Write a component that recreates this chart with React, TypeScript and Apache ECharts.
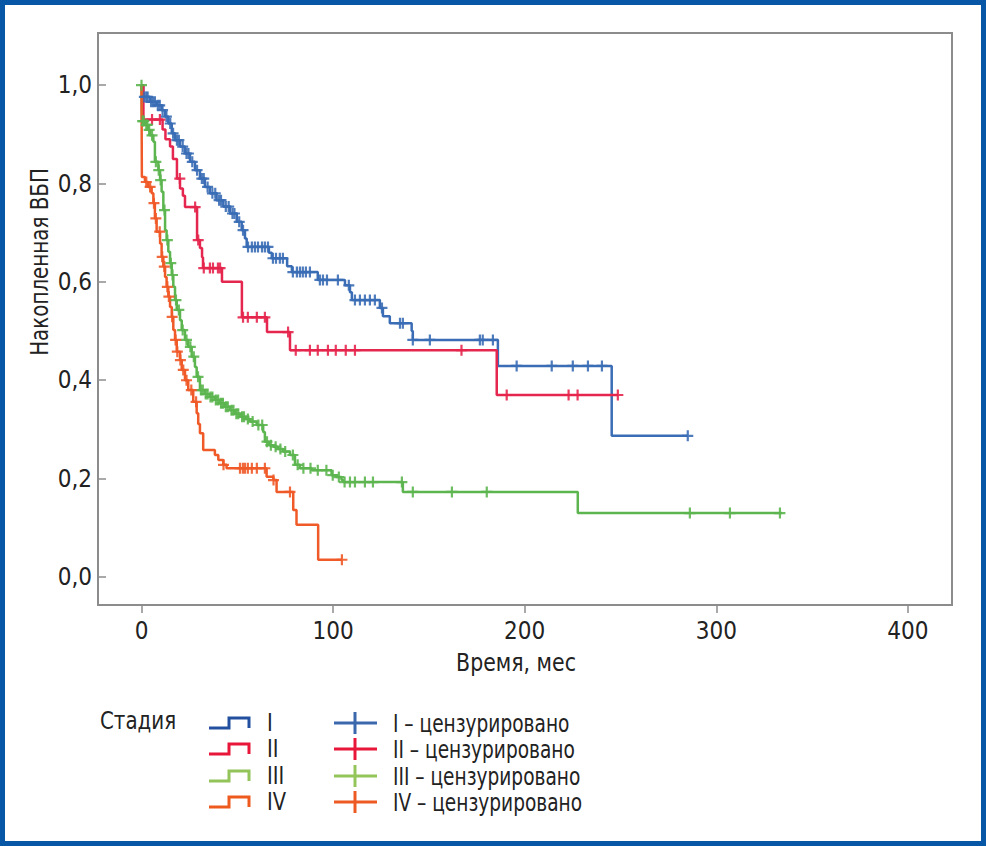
import React, { useEffect, useRef } from "react";
import * as echarts from "echarts";

// ---- Data ----
const xTicks = [0, 100, 200, 300, 400];
const yTicks = [0, 0.2, 0.4, 0.6, 0.8, 1.0];

const stageNames = ["I", "II", "III", "IV"];
const censorSuffix = " – цензурировано";

const blueT = [0, 0.9, 4.4, 7.9, 10.5, 12.3, 14, 15.8, 17.5, 20.1, 22.7, 25.3, 27.9, 30.5, 33.1, 35.7, 39.2, 42.7, 46.2, 49.7, 52.3, 54, 54.9, 66.5, 68, 76, 78.5, 92, 106.2, 108.8, 109.8, 124.4, 126, 129.6, 141, 141.6, 186, 245.4, 285.1];
const blueS = [1, 0.976, 0.966, 0.959, 0.949, 0.936, 0.922, 0.902, 0.888, 0.875, 0.861, 0.844, 0.827, 0.81, 0.793, 0.78, 0.766, 0.753, 0.739, 0.722, 0.705, 0.688, 0.671, 0.659, 0.648, 0.632, 0.62, 0.604, 0.593, 0.579, 0.563, 0.547, 0.53, 0.516, 0.5, 0.482, 0.429, 0.287, 0.287];
const blueCensor = [1.5, 2.5, 3.2, 5, 6, 7, 8.5, 9.5, 11, 13, 15, 16.5, 18.5, 19.5, 21.5, 23.5, 24.5, 26.5, 29, 31.5, 32.5, 34.5, 37, 38.5, 40.5, 41.5, 44, 45.5, 47.5, 48.5, 51, 53, 55.6, 57.6, 59.2, 60.8, 62.9, 64.4, 66, 68.6, 70.2, 72.2, 73.8, 79, 81.1, 82.7, 84.2, 85.8, 87.9, 93.1, 94.7, 96.8, 102.5, 108.2, 111.4, 114, 116.6, 119.2, 121.8, 125.5, 134.9, 136.4, 141.6, 150.5, 176.6, 178.1, 183.4, 195.8, 214.1, 225.1, 233, 240.3, 285.1];

const redT = [0, 1, 11, 12.5, 14.9, 16.4, 18.5, 20.1, 21.6, 22.7, 29, 30.5, 31.6, 32.1, 42, 52.4, 65.5, 77.5, 185.4, 248.6];
const redS = [1, 0.93, 0.91, 0.89, 0.875, 0.85, 0.81, 0.79, 0.775, 0.752, 0.685, 0.669, 0.65, 0.628, 0.6, 0.528, 0.498, 0.461, 0.37, 0.37];
const redCensor = [5.5, 9.6, 20, 28, 29.6, 32.5, 35.7, 37.3, 39.9, 41, 53, 55.5, 60.2, 64.4, 76.5, 80.5, 87.9, 92, 97.3, 101.4, 106.6, 111.4, 167, 190.6, 222.9, 227.6, 248.6];

const greenT = [0, 0.2, 1.8, 3.5, 4.4, 6.2, 7, 8.8, 9.7, 10.5, 11.4, 12.3, 13.1, 14, 14.9, 15.8, 16.6, 17.5, 18.4, 20.1, 21, 22.7, 24.4, 26.2, 27.9, 28.8, 30.5, 33.1, 35.7, 38.3, 40.9, 43.6, 46.2, 48.8, 51.4, 54, 56.6, 60.1, 63.5, 64.4, 66.5, 68.8, 71.2, 74, 77.5, 80.1, 82.7, 88.8, 99.2, 101.8, 104.4, 105.3, 136.4, 227.7, 334.2];
const greenS = [1, 0.927, 0.919, 0.909, 0.898, 0.885, 0.844, 0.827, 0.807, 0.783, 0.746, 0.705, 0.685, 0.661, 0.638, 0.614, 0.59, 0.563, 0.543, 0.522, 0.502, 0.482, 0.468, 0.448, 0.427, 0.407, 0.38, 0.372, 0.366, 0.36, 0.353, 0.346, 0.339, 0.332, 0.326, 0.321, 0.316, 0.309, 0.295, 0.275, 0.268, 0.265, 0.26, 0.255, 0.248, 0.228, 0.221, 0.217, 0.207, 0.203, 0.197, 0.193, 0.173, 0.13, 0.13];
const greenCensor = [0, 0.6, 1.2, 2.5, 3, 4, 5.5, 7.5, 9, 10, 12, 13.5, 15.3, 16.2, 18, 19.5, 21.5, 23.5, 25.5, 27.3, 29.5, 31, 32, 33.5, 34.5, 36, 37, 38.8, 40, 41.5, 42.5, 44, 45, 47, 48, 49.5, 50.5, 52.5, 53.5, 55.5, 58, 61, 63, 65.5, 67.5, 70, 72.5, 75, 79, 81.5, 84.5, 88.2, 92, 96.5, 99.8, 103, 106, 108.8, 111.4, 116.6, 120.8, 135.9, 141.6, 162, 180.2, 286.2, 307.1, 333.2];

const orangeT = [0, 0.2, 1.8, 3.5, 5.3, 6.2, 7, 7.9, 9.7, 10.5, 11.4, 12.3, 13.1, 14, 14.9, 15.8, 16.6, 17.5, 18.4, 20.1, 21, 22.7, 24.4, 27, 28.8, 29.6, 30.5, 32.2, 38.3, 40.1, 42.7, 44.4, 65.3, 68.8, 70.5, 79.2, 80.9, 92.2, 104.6];
const orangeS = [1, 0.813, 0.803, 0.793, 0.78, 0.76, 0.729, 0.702, 0.678, 0.651, 0.631, 0.61, 0.59, 0.57, 0.549, 0.529, 0.502, 0.482, 0.458, 0.441, 0.421, 0.4, 0.38, 0.356, 0.333, 0.311, 0.292, 0.258, 0.248, 0.238, 0.228, 0.221, 0.204, 0.197, 0.173, 0.136, 0.106, 0.035, 0.035];
const orangeCensor = [2.5, 4.5, 6.5, 7.5, 9.5, 10.8, 11.9, 13.5, 14.3, 16, 17.8, 18.7, 20.3, 21.8, 23.5, 26, 28.5, 42.8, 51.4, 52.9, 54, 55.5, 57.6, 60.2, 64.4, 68.9, 77.5, 104.6];

// ---- Styles ----
const FONT = '"DejaVu Sans Condensed", "Liberation Sans Narrow", "Roboto Condensed", sans-serif';
const curveColors = ["#3a6db5", "#e5264e", "#5cb54f", "#f05a28"];
const legendLineColors = ["#22509f", "#e8173a", "#92c45a", "#ee5a1d"];
const legendCrossColors = ["#3b67ad", "#e8173a", "#94c55a", "#ee5a24"];
const CROSS = "path://M4,0H6V10H4Z M0,4H10V6H0Z";

function stepAt(ts: number[], ss: number[], t: number) {
  let s = ss[0];
  for (let i = 0; i < ts.length; i++) {
    if (ts[i] <= t) s = ss[i];
    else break;
  }
  return s;
}

const curves = [
  { t: blueT, s: blueS, c: blueCensor },
  { t: redT, s: redS, c: redCensor },
  { t: greenT, s: greenS, c: greenCensor },
  { t: orangeT, s: orangeS, c: orangeCensor },
];

export default function App() {
  const ref = useRef<HTMLDivElement>(null);
  useEffect(() => {
    document.body.style.margin = "0";
    const chart = echarts.init(ref.current!, null, { renderer: "svg" });

    const series: any[] = [];
    curves.forEach((cv, i) => {
      series.push({
        type: "line",
        name: stageNames[i],
        step: "end",
        showSymbol: false,
        data: cv.t.map((t, k) => [t, cv.s[k]]),
        lineStyle: { color: curveColors[i], width: 2.5 },
        itemStyle: { color: curveColors[i] },
        z: 2 + i,
      });
    });
    curves.forEach((cv, i) => {
      series.push({
        type: "scatter",
        name: stageNames[i] + censorSuffix,
        symbol: CROSS,
        symbolSize: 11,
        data: cv.c.map((t) => [t, stepAt(cv.t, cv.s, t)]),
        itemStyle: { color: curveColors[i], opacity: 0.9 },
        z: 6 + i,
      });
    });

    const txt = (text: string, x: number, y: number, align: string, sx: number, extra: any = {}) => ({
      type: "text",
      x,
      y,
      scaleX: sx,
      ...extra,
      style: { text, font: `24px ${FONT}`, fill: "#222", align, verticalAlign: "middle" },
    });

    const graphic: any[] = [
      {
        type: "rect",
        shape: { x: 2.5, y: 2.5, width: 981, height: 841 },
        style: { fill: "none", stroke: "#0857a6", lineWidth: 5 },
      },
      txt("Накопленная ВБП", 40, 262, "center", 0.92, { rotation: Math.PI / 2 }),
      txt("Время, мес", 516, 663, "center", 0.95),
      txt("Стадия", 100, 721, "left", 0.92),
    ];
    const rowY = [723, 749, 776, 802];
    stageNames.forEach((nm, i) => {
      const y = rowY[i];
      graphic.push({
        type: "polyline",
        shape: { points: [[209, y + 5], [229, y + 5], [229, y - 5], [249, y - 5], [249, y + 5]] },
        style: { stroke: legendLineColors[i], lineWidth: 3, fill: "none" },
      });
      graphic.push(txt(nm, 267, y, "left", 0.9));
      graphic.push({
        type: "line",
        shape: { x1: 334, y1: y, x2: 377, y2: y },
        style: { stroke: legendCrossColors[i], lineWidth: 3 },
      });
      graphic.push({
        type: "line",
        shape: { x1: 355, y1: y - 11, x2: 355, y2: y + 11 },
        style: { stroke: legendCrossColors[i], lineWidth: 3 },
      });
      graphic.push(txt(nm + censorSuffix, 393, y, "left", 0.86));
    });

    chart.setOption({
      animation: false,
      backgroundColor: "#fff",
      grid: {
        left: 98,
        top: 33,
        right: 34,
        bottom: 241,
        show: true,
        borderColor: "#8c8c8c",
        borderWidth: 2,
        backgroundColor: "transparent",
      },
      xAxis: {
        type: "value",
        min: -22.7,
        max: 423,
        axisLine: { show: false, onZero: false },
        splitLine: { show: false },
        axisTick: { show: true, length: 8, customValues: xTicks, lineStyle: { color: "#8c8c8c", width: 1.5 } },
        axisLabel: { customValues: xTicks, margin: 14, color: "#222", fontFamily: FONT, fontSize: 24 },
      },
      yAxis: {
        type: "value",
        min: -0.057,
        max: 1.106,
        axisLine: { show: false, onZero: false },
        splitLine: { show: false },
        axisTick: { show: true, inside: true, length: 8, customValues: yTicks, lineStyle: { color: "#8c8c8c", width: 1.5 } },
        axisLabel: {
          customValues: yTicks,
          margin: 6,
          color: "#222",
          fontFamily: FONT,
          fontSize: 24,
          formatter: (v: number) => v.toFixed(1).replace(".", ","),
        },
      },
      graphic,
      series,
    });
    return () => chart.dispose();
  }, []);
  return <div ref={ref} style={{ width: 986, height: 846 }} />;
}
